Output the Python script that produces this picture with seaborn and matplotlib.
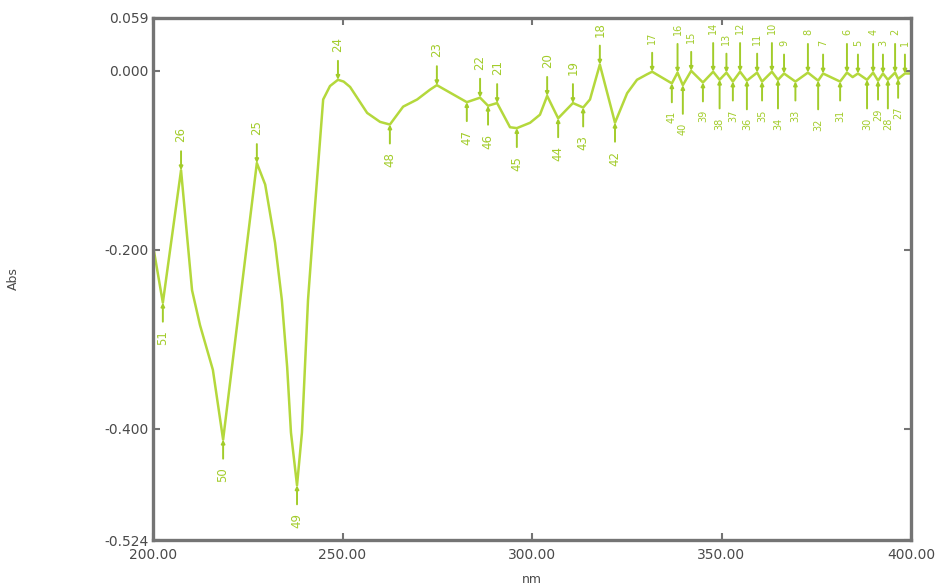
import numpy as np
import pandas as pd
import matplotlib
matplotlib.use("Agg")
import matplotlib.pyplot as plt
import seaborn as sns

# ---- data ----
curve_nm = [200.0, 202.6, 207.4, 210.3, 212.4, 215.8, 218.5, 227.4, 229.6, 232.2,
            234.0, 235.4, 236.4, 238.0, 239.3, 240.9, 242.2, 244.9, 246.7, 248.8,
            250.3, 252.0, 256.5, 259.9, 262.5, 266.0, 269.7, 273.1, 274.9, 282.8, 286.3,
            288.4, 290.8, 294.2, 296.0, 299.5, 302.1, 304.0, 306.9, 310.8, 313.5,
            315.3, 317.9, 321.9, 325.1, 327.7, 330.3, 331.7, 336.9, 338.4, 339.8,
            342.0, 345.1, 347.8, 349.5, 351.3, 353.0, 354.9, 356.7, 359.4, 360.7,
            363.3, 364.9, 366.5, 369.5, 372.8, 375.5, 376.8, 381.3, 383.1, 384.6,
            386.0, 388.4, 390.0, 391.3, 392.6, 393.9, 395.8, 396.6, 398.4, 400.0]
curve_abs = [-0.195, -0.259, -0.111, -0.245, -0.284, -0.334, -0.412, -0.103, -0.127, -0.192,
             -0.256, -0.331, -0.404, -0.463, -0.404, -0.256, -0.181, -0.032, -0.017, -0.010,
             -0.012, -0.018, -0.047, -0.057, -0.060, -0.040, -0.032, -0.021, -0.016, -0.035, -0.030,
             -0.039, -0.036, -0.063, -0.064, -0.058, -0.049, -0.028, -0.053, -0.036, -0.041,
             -0.032, 0.007, -0.058, -0.025, -0.010, -0.004, -0.001, -0.014, -0.002, -0.016,
             0.000, -0.013, -0.001, -0.010, -0.002, -0.012, -0.001, -0.011, -0.002, -0.012,
             -0.001, -0.010, -0.003, -0.012, -0.002, -0.011, -0.003, -0.012, -0.002, -0.007,
             -0.003, -0.010, -0.002, -0.011, -0.003, -0.010, -0.002, -0.009, -0.003, -0.003]

peak_nm = [398.4, 395.8, 392.6, 390.0, 386.0, 383.1, 376.8, 372.8, 366.5, 363.3,
           359.4, 354.9, 351.3, 347.8, 342.0, 338.4, 331.7, 317.9, 310.8, 304.0,
           290.8, 286.3, 274.9, 248.8, 227.4, 207.4]
peak_no = list(range(1, 27))

valley_nm = [396.6, 393.9, 391.3, 388.4, 381.3, 375.5, 369.5, 364.9, 360.7, 356.7,
             353.0, 349.5, 345.1, 339.8, 336.9, 321.9, 313.5, 306.9, 296.0, 288.4,
             282.8, 262.5, 238.0, 218.5, 202.6]
valley_no = list(range(27, 52))

x_ticks = [200, 250, 300, 350, 400]
y_ticks = [0.059, 0.000, -0.200, -0.400, -0.524]

# ---- style ----
sns.set_style("white")
plt.rcParams["font.family"] = ["DejaVu Sans"]
line_col = "#b4d83c"
lab_col = "#a2cc2a"
axis_col = "#747474"
text_col = "#4a4a4a"

fig = plt.figure(figsize=(9.36, 5.87), dpi=100)
ax = fig.add_axes([153 / 936, 1 - 540 / 587, 758 / 936, 522 / 587])

df = pd.DataFrame({"nm": curve_nm, "Abs": curve_abs})
sns.lineplot(data=df, x="nm", y="Abs", ax=ax, color=line_col, lw=1.8,
             estimator=None, sort=False)

lookup = dict(zip(curve_nm, curve_abs))


def mark(nm, no, up, row):
    dense = nm > 330
    off = 20 + (7 if (dense and row % 2) else 0)
    ax.annotate(str(no), xy=(nm, lookup[nm]), xytext=(0, off if up else -off),
                textcoords="offset points", rotation=90, ha="center",
                va="bottom" if up else "top", fontsize=7 if dense else 8.5,
                color=lab_col, annotation_clip=False, zorder=5,
                arrowprops=dict(arrowstyle="-|>", color=lab_col, lw=1.4,
                                mutation_scale=5, shrinkA=4, shrinkB=0))


for i, (nm, no) in enumerate(zip(peak_nm, peak_no)):
    mark(nm, no, True, i)
for i, (nm, no) in enumerate(zip(valley_nm, valley_no)):
    mark(nm, no, False, i)

ax.set_xlim(200, 400)
ax.set_ylim(-0.524, 0.059)
ax.set_xticks(x_ticks)
ax.set_xticklabels([f"{v:.2f}" for v in x_ticks])
ax.set_yticks(y_ticks)
ax.set_yticklabels([f"{v:.3f}" for v in y_ticks])

for s in ax.spines.values():
    s.set_color(axis_col)
    s.set_linewidth(2.4)
ax.tick_params(direction="in", length=5, width=1.5, color=axis_col,
               labelsize=10, labelcolor=text_col, top=True, right=True,
               bottom=True, left=True)
ax.tick_params(axis="x", pad=6)
ax.tick_params(axis="y", pad=3)

ax.set_xlabel("nm", fontsize=9, color=text_col)
ax.set_ylabel("Abs", fontsize=9, color=text_col)
ax.xaxis.set_label_coords(0.5, -0.064)
ax.yaxis.set_label_coords(-0.175, 0.5)

fig.savefig("out.png", dpi=100)
